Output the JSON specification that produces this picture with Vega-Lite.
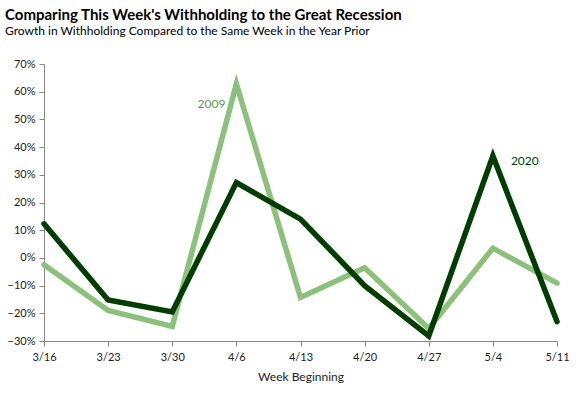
{
  "$schema": "https://vega.github.io/schema/vega-lite/v6.json",
  "autosize": {"type": "none"},
  "width": 513,
  "height": 277,
  "padding": {"left": 44, "top": 64, "right": 25, "bottom": 52},
  "background": "white",
  "title": {
    "text": "Comparing This Week's Withholding to the Great Recession",
    "subtitle": "Growth in Withholding Compared to the Same Week in the Year Prior",
    "anchor": "start",
    "frame": "group",
    "dx": -39,
    "offset": 21,
    "font": "Lato",
    "fontSize": 15,
    "fontWeight": "bold",
    "color": "#000000",
    "subtitleFont": "Lato",
    "subtitleFontSize": 12,
    "subtitleColor": "#000000",
    "subtitlePadding": 3
  },
  "datasets": {
    "d2009": [
      {"week": "3/16", "growth": -0.025},
      {"week": "3/23", "growth": -0.19},
      {"week": "3/30", "growth": -0.247},
      {"week": "4/6", "growth": 0.628},
      {"week": "4/13", "growth": -0.143},
      {"week": "4/20", "growth": -0.036},
      {"week": "4/27", "growth": -0.255},
      {"week": "5/4", "growth": 0.035},
      {"week": "5/11", "growth": -0.091}
    ],
    "d2020": [
      {"week": "3/16", "growth": 0.123},
      {"week": "3/23", "growth": -0.152},
      {"week": "3/30", "growth": -0.195},
      {"week": "4/6", "growth": 0.272},
      {"week": "4/13", "growth": 0.14},
      {"week": "4/20", "growth": -0.10},
      {"week": "4/27", "growth": -0.282},
      {"week": "5/4", "growth": 0.368},
      {"week": "5/11", "growth": -0.23}
    ],
    "lab2009": [
      {"week": "4/6", "growth": 0.556, "label": "2009"}
    ],
    "lab2020": [
      {"week": "5/4", "growth": 0.351, "label": "2020"}
    ]
  },
  "config": {
    "view": {"stroke": null},
    "axis": {
      "labelFont": "Lato",
      "labelFontSize": 11,
      "labelColor": "#222222",
      "titleFont": "Lato",
      "titleFontSize": 12,
      "titleFontWeight": "normal",
      "titleColor": "#222222",
      "domainColor": "#888888",
      "tickColor": "#888888",
      "grid": false
    }
  },
  "encoding": {
    "x": {
      "field": "week",
      "type": "ordinal",
      "sort": ["3/16", "3/23", "3/30", "4/6", "4/13", "4/20", "4/27", "5/4", "5/11"],
      "scale": {"type": "point", "padding": 0, "domain": ["3/16", "3/23", "3/30", "4/6", "4/13", "4/20", "4/27", "5/4", "5/11"]},
      "axis": {"title": "Week Beginning", "labelAngle": 0, "tickSize": 5, "labelPadding": 5, "titlePadding": 9}
    },
    "y": {
      "field": "growth",
      "type": "quantitative",
      "scale": {"domain": [-0.3, 0.7], "nice": false, "zero": false},
      "axis": {"title": null, "format": ".0%", "values": [-0.3, -0.2, -0.1, 0, 0.1, 0.2, 0.3, 0.4, 0.5, 0.6, 0.7], "tickSize": 5, "labelPadding": 4}
    }
  },
  "layer": [
    {
      "data": {"name": "d2009"},
      "mark": {"type": "line", "color": "#8bc17b", "strokeWidth": 5.5, "strokeCap": "round", "strokeJoin": "miter"}
    },
    {
      "data": {"name": "d2020"},
      "mark": {"type": "line", "color": "#003d00", "strokeWidth": 5.5, "strokeCap": "round", "strokeJoin": "miter"}
    },
    {
      "data": {"name": "lab2009"},
      "mark": {"type": "text", "font": "Lato", "fontSize": 12, "align": "right", "dx": -11, "color": "#5e9950"},
      "encoding": {"text": {"field": "label"}}
    },
    {
      "data": {"name": "lab2020"},
      "mark": {"type": "text", "font": "Lato", "fontSize": 12, "align": "left", "dx": 18, "color": "#003d00"},
      "encoding": {"text": {"field": "label"}}
    }
  ]
}
